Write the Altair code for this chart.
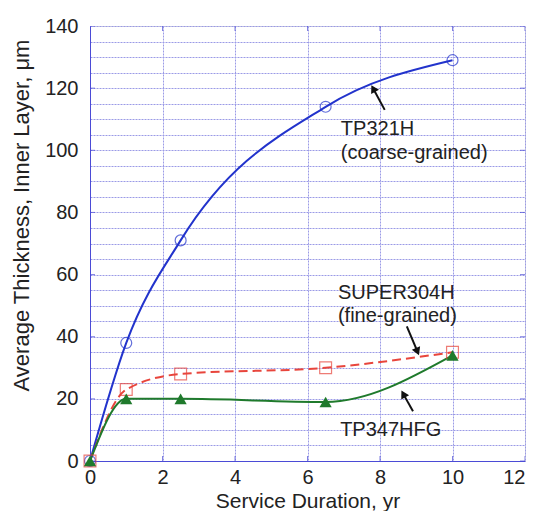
import altair as alt
import pandas as pd

years = [0, 1, 2.5, 6.5, 10]
tp321h = [0, 38, 71, 114, 129]
super304h = [0, 23, 28, 30, 35]
tp347hfg = [0, 20, 20, 19, 34]

label_text = ["TP321H", "(coarse-grained)", "SUPER304H", "(fine-grained)", "TP347HFG"]
label_x = [6.92, 6.92, 6.84, 6.84, 6.9]
label_y = [107.0, 99.0, 54.1, 46.7, 10.0]

arrow_x = [8.13, 8.74, 8.91]
arrow_y = [113.0, 43.3, 16.0]
arrow_x2 = [7.83, 9.02, 8.66]
arrow_y2 = [119.5, 35.6, 21.2]
arrow_angle = [331, 157, 331]

yticks = list(range(0, 141, 20))
xticks = list(range(0, 13, 2))
ygrid = list(range(0, 141, 5))

FONT = "Liberation Sans"
BLUE = "#2233cc"
RED = "#e8453c"
GREEN = "#1f7a2c"
FRAME = "#4b4bd6"
GRID = "#9a9ae6"
TXT = "#222222"

df = pd.DataFrame({"x": years, "a": tp321h, "b": super304h, "c": tp347hfg})
lab = pd.DataFrame({"t": label_text, "x": label_x, "y": label_y})
arr = pd.DataFrame({"x": arrow_x, "y": arrow_y, "x2": arrow_x2, "y2": arrow_y2, "ang": arrow_angle})

xs = alt.Scale(domain=[0, 12], nice=False, zero=False)
ys = alt.Scale(domain=[0, 140], nice=False, zero=False)

xaxis = alt.Axis(values=xticks, title="Service Duration, yr", grid=True, ticks=False,
                 labelFontSize=20, titleFontSize=21, labelPadding=6,
                 titleY=46, titleBaseline="alphabetic",
                 labelFlush=False, labelOverlap=False,
                 labelAlign={"condition": {"test": "datum.value == 12", "value": "right"}, "value": "center"},
                 domainColor=FRAME, gridColor=GRID, gridDash=[2, 1], labelColor=TXT,
                 titleColor=TXT, labelFont=FONT, titleFont=FONT, titleFontWeight="normal")
yaxis = alt.Axis(values=ygrid, title="Average Thickness, Inner Layer, μm", grid=True, ticks=False,
                 labelExpr="datum.value % 20 == 0 ? datum.label : ''",
                 labelFlush=False, labelOverlap=False,
                 labelFontSize=20, titleFontSize=22, labelPadding=12,
                 titleX=-62, titleY=189, titleBaseline="alphabetic",
                 domainColor=FRAME, gridColor=GRID, gridDash=[2, 1], labelColor=TXT,
                 titleColor=TXT, labelFont=FONT, titleFont=FONT, titleFontWeight="normal")


def X(f):
    return alt.X(f, scale=xs, axis=xaxis)


def Y(f):
    return alt.Y(f, scale=ys, axis=yaxis)


base = alt.Chart(df)

line_a = base.mark_line(color=BLUE, strokeWidth=2, interpolate="monotone").encode(x=X("x:Q"), y=Y("a:Q"))
pts_a = base.mark_point(shape="circle", filled=False, color=BLUE, size=120, strokeWidth=1.2).encode(
    x=X("x:Q"), y=Y("a:Q"))

line_b = base.mark_line(color=RED, strokeWidth=2, strokeDash=[9, 5], interpolate="monotone").encode(
    x=X("x:Q"), y=Y("b:Q"))
pts_b = base.mark_point(shape="square", filled=False, color=RED, size=140, strokeWidth=1.2).encode(
    x=X("x:Q"), y=Y("b:Q"))

line_c = base.mark_line(color=GREEN, strokeWidth=2, interpolate="monotone").encode(x=X("x:Q"), y=Y("c:Q"))
pts_c = base.mark_point(shape="triangle-up", filled=True, color=GREEN, size=150, opacity=1).encode(
    x=X("x:Q"), y=Y("c:Q"))

texts = alt.Chart(lab).mark_text(align="left", baseline="middle", fontSize=20, font=FONT, color=TXT).encode(
    x=X("x:Q"), y=Y("y:Q"), text="t:N")

shafts = alt.Chart(arr).mark_rule(color="#111", strokeWidth=2).encode(
    x=X("x:Q"), y=Y("y:Q"), x2="x2:Q", y2="y2:Q")
heads = alt.Chart(arr).mark_point(shape="triangle", filled=True, color="#111", size=80, opacity=1).encode(
    x=X("x2:Q"), y=Y("y2:Q"), angle=alt.Angle("ang:Q", scale=None))

ytick_df = pd.DataFrame({"v": yticks * 2, "side": [0] * len(yticks) + [12] * len(yticks)})
xtick_df = pd.DataFrame({"v": xticks * 2, "side": [0] * len(xticks) + [140] * len(xticks)})
yt = alt.Chart(ytick_df).mark_tick(orient="horizontal", color=FRAME, size=10, thickness=1, clip=True).encode(
    x=X("side:Q"), y=Y("v:Q"))
xt = alt.Chart(xtick_df).mark_tick(orient="vertical", color=FRAME, size=10, thickness=1, clip=True).encode(
    x=X("v:Q"), y=Y("side:Q"))

chart = alt.layer(line_a, line_b, line_c, yt, xt, pts_a, pts_b, pts_c, shafts, heads, texts).properties(
    width=435, height=435,
    autosize=alt.AutoSizeParams(type="none"),
    padding={"left": 82, "top": 18, "right": 4, "bottom": 50},
).configure_view(stroke=FRAME, strokeWidth=1.5).configure(background="white")

chart.save("out.html", embed_options={"renderer": "svg", "actions": False})
